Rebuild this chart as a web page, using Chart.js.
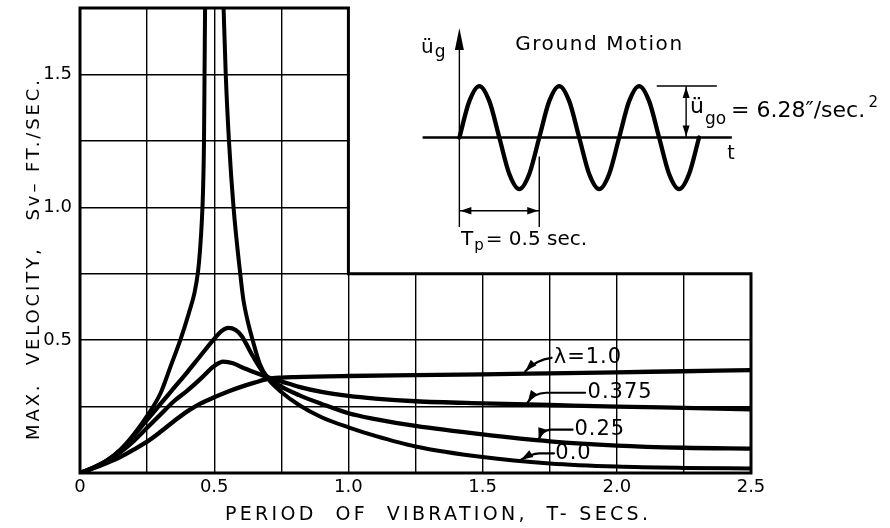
<!DOCTYPE html>
<html>
<head>
<meta charset="utf-8">
<script src="https://cdn.jsdelivr.net/npm/chart.js@4.4.1/dist/chart.umd.min.js"></script>
<style>
  html, body { margin: 0; padding: 0; background: #fff; }
  #wrap { width: 890px; height: 528px; }
</style>
</head>
<body>
<div id="wrap"><canvas id="spectrum" width="890" height="528"></canvas></div>
<script>
// Period T (sec) and max velocity Sv (ft/sec), one pair per curve.
// The undamped curve has no finite value at T = 0.5 (resonance), hence the null.
const tLam0 = [0, 0.05, 0.1, 0.15, 0.2, 0.25, 0.3, 0.337, 0.377, 0.405, 0.427, 0.44, 0.448, 0.454, 0.458, 0.462, 0.464, 0.466,
  0.5,
  0.535, 0.543, 0.555, 0.572, 0.597, 0.609, 0.624, 0.64, 0.67, 0.7, 0.75, 0.816, 0.9, 1.0, 1.1, 1.25, 1.5, 1.75, 2.0, 2.25, 2.5];
const vLam0 = [0, 0.02, 0.047, 0.088, 0.145, 0.215, 0.3, 0.4, 0.51, 0.6, 0.68, 0.76, 0.85, 0.95, 1.05, 1.25, 1.5, 1.75,
  null,
  1.75, 1.5, 1.25, 1.0, 0.75, 0.65, 0.575, 0.512, 0.41, 0.355, 0.305, 0.256, 0.21, 0.172, 0.14, 0.1, 0.06, 0.036, 0.024, 0.019, 0.017];

const tLam25 = [0, 0.05, 0.1, 0.15, 0.2, 0.25, 0.3, 0.35, 0.4, 0.44, 0.5, 0.525, 0.553, 0.58, 0.603, 0.62, 0.64, 0.678, 0.7, 0.75,
  0.816, 0.9, 1.0, 1.1, 1.25, 1.5, 1.75, 2.0, 2.25, 2.5];
const vLam25 = [0, 0.02, 0.047, 0.085, 0.14, 0.2, 0.26, 0.32, 0.38, 0.43, 0.505, 0.532, 0.546, 0.538, 0.515, 0.485, 0.447, 0.385, 0.36, 0.325,
  0.293, 0.26, 0.225, 0.203, 0.177, 0.145, 0.119, 0.103, 0.095, 0.092];

const tLam375 = [0, 0.05, 0.1, 0.15, 0.2, 0.25, 0.3, 0.35, 0.4, 0.45, 0.5, 0.534, 0.57, 0.603, 0.65, 0.7, 0.75, 0.816, 0.9, 1.0,
  1.1, 1.25, 1.5, 1.75, 2.0, 2.25, 2.5];
const vLam375 = [0, 0.02, 0.045, 0.078, 0.12, 0.17, 0.22, 0.27, 0.31, 0.355, 0.403, 0.419, 0.413, 0.398, 0.379, 0.36, 0.345, 0.324, 0.305, 0.29,
  0.28, 0.27, 0.262, 0.256, 0.25, 0.245, 0.24];

const tLam100 = [0, 0.05, 0.1, 0.15, 0.2, 0.25, 0.3, 0.35, 0.4, 0.45, 0.5, 0.55, 0.6, 0.65, 0.7, 0.75, 0.8, 1.0, 1.25, 1.5, 1.75, 2.0, 2.25, 2.5];
const vLam100 = [0, 0.018, 0.038, 0.06, 0.088, 0.118, 0.155, 0.195, 0.232, 0.262, 0.285, 0.306, 0.324, 0.34, 0.354, 0.359, 0.361, 0.365, 0.368, 0.371, 0.375, 0.379, 0.383, 0.387];

const curveNames = ['λ=1.0', '0.375', '0.25', '0.0'];

// tick labels (grid every 0.25, labels every 0.5)
const xTickLabels = ['0', '', '0.5', '', '1.0', '', '1.5', '', '2.0', '', '2.5'];
const yTickLabels = ['', '', '0.5', '', '1.0', '', '1.5', ''];

// ground motion sketch: time (sec) and ground acceleration (in/sec^2), peak 6.28
const tGround = [0, 0.0625, 0.125, 0.1875, 0.25, 0.3125, 0.375, 0.4375, 0.5, 0.5625, 0.625, 0.6875, 0.75,
  0.8125, 0.875, 0.9375, 1.0, 1.0625, 1.125, 1.1875, 1.25, 1.3125, 1.375, 1.4375, 1.5];
const accGround = [0, 4.44, 6.28, 4.44, 0, -4.44, -6.28, -4.44, 0, 4.44, 6.28, 4.44, 0,
  -4.44, -6.28, -4.44, 0, 4.44, 6.28, 4.44, 0, -4.44, -6.28, -4.44, 0];

const FONT = '"DejaVu Sans", sans-serif';

// where the frame steps down (upper right corner holds the sketch)
const frameStep = { t: 1.0, v: 0.75 };

// sketch guide lines, in sketch units (sec, in/sec^2)
const sketch = {
  tAxis: [-0.23, 1.705],
  accAxis: [-10.3, 12.0],
  accArrowTip: 13.35,
  periodLevel: -8.93,
  periodSpan: [0, 0.5],
  periodExt: [-2.3, -10.9],
  peakLevel: 6.28,
  peakLine: [1.235, 1.611],
  peakArrowT: 1.419
};

// curve labels with leader arrows, in chart units (T, Sv)
const leaders = [
  { text: curveNames[0], at: [1.765, 0.433], start: [1.757, 0.433], corner: [1.757, 0.433], ctrl: [1.70, 0.426], tip: [1.659, 0.383] },
  { text: curveNames[1], at: [1.891, 0.302], start: [1.882, 0.302], corner: [1.737, 0.302], ctrl: [1.690, 0.300], tip: [1.668, 0.266] },
  { text: curveNames[2], at: [1.842, 0.163], start: [1.835, 0.163], corner: [1.755, 0.163], ctrl: [1.720, 0.162], tip: [1.709, 0.125] },
  { text: curveNames[3], at: [1.771, 0.073], start: [1.766, 0.074], corner: [1.712, 0.074], ctrl: [1.680, 0.072], tip: [1.643, 0.050] }
];

function pairs(xs, ys) {
  return xs.map((x, i) => ({ x: x, y: ys[i] }));
}

function arrowHead(ctx, tx, ty, fx, fy, len, half) {
  const a = Math.atan2(ty - fy, tx - fx);
  const c = Math.cos(a), s = Math.sin(a);
  ctx.beginPath();
  ctx.moveTo(tx, ty);
  ctx.lineTo(tx - len * c + half * s, ty - len * s - half * c);
  ctx.lineTo(tx - len * c - half * s, ty - len * s + half * c);
  ctx.closePath();
  ctx.fill();
}

// draws text stretched (by letter spacing) to a given width, centred on cx
function fitText(ctx, str, cx, y, font, width) {
  ctx.font = font;
  ctx.letterSpacing = '0px';
  const w = ctx.measureText(str).width;
  const sp = Math.max(0, (width - w) / (str.length - 1));
  ctx.letterSpacing = sp + 'px';
  ctx.textAlign = 'left';
  ctx.fillText(str, cx - width / 2, y);
  ctx.letterSpacing = '0px';
}

function textWithSub(ctx, main, sub, x, y, font, subFont, subDy) {
  ctx.textAlign = 'left';
  ctx.font = font;
  ctx.fillText(main, x, y);
  const w = ctx.measureText(main).width;
  ctx.font = subFont;
  ctx.fillText(sub, x + w + 1, y + subDy);
}

const framePlugin = {
  id: 'frame',
  beforeDatasetsDraw(chart) {
    const { ctx, scales: { x, y } } = chart;
    const xs = x.getPixelForValue(frameStep.t);
    const ys = y.getPixelForValue(frameStep.v);
    ctx.save();
    // blank the upper right block, the grid stops at the step
    ctx.fillStyle = '#fff';
    ctx.fillRect(xs + 1, 0, chart.width - xs, ys - 1);
    ctx.strokeStyle = '#000';
    ctx.lineWidth = 3;
    ctx.lineJoin = 'miter';
    ctx.beginPath();
    ctx.moveTo(x.left, y.bottom);
    ctx.lineTo(x.left, y.top);
    ctx.lineTo(xs, y.top);
    ctx.lineTo(xs, ys);
    ctx.lineTo(x.right, ys);
    ctx.lineTo(x.right, y.bottom);
    ctx.closePath();
    ctx.stroke();
    ctx.restore();
  }
};

const notesPlugin = {
  id: 'notes',
  afterDatasetsDraw(chart) {
    const { ctx, scales: { x, y, xi, yi } } = chart;
    const px = v => x.getPixelForValue(v);
    const py = v => y.getPixelForValue(v);
    const sx = v => xi.getPixelForValue(v);
    const sy = v => yi.getPixelForValue(v);
    ctx.save();
    ctx.fillStyle = '#000';
    ctx.strokeStyle = '#000';
    ctx.lineCap = 'round';

    // curve labels and leader arrows
    leaders.forEach(l => {
      ctx.lineWidth = 2.2;
      ctx.beginPath();
      ctx.moveTo(px(l.start[0]), py(l.start[1]));
      ctx.lineTo(px(l.corner[0]), py(l.corner[1]));
      ctx.quadraticCurveTo(px(l.ctrl[0]), py(l.ctrl[1]), px(l.tip[0]), py(l.tip[1]));
      ctx.stroke();
      arrowHead(ctx, px(l.tip[0]), py(l.tip[1]), px(l.ctrl[0]), py(l.ctrl[1]), 12, 4);
      ctx.font = '21px ' + FONT;
      ctx.letterSpacing = '1px';
      ctx.textAlign = 'left';
      ctx.textBaseline = 'middle';
      ctx.fillText(l.text, px(l.at[0]), py(l.at[1]));
      ctx.letterSpacing = '0px';
    });
    ctx.textBaseline = 'alphabetic';

    // sketch: arrow on the acceleration axis
    arrowHead(ctx, sx(0), sy(sketch.accArrowTip), sx(0), sy(0), 22, 4.5);
    // period dimension arrows
    const pyl = sy(sketch.periodLevel);
    arrowHead(ctx, sx(sketch.periodSpan[0]) + 1, pyl, sx(0.25), pyl, 11, 3.8);
    arrowHead(ctx, sx(sketch.periodSpan[1]) - 1, pyl, sx(0.25), pyl, 11, 3.8);
    // amplitude dimension arrows
    const ax = sx(sketch.peakArrowT);
    arrowHead(ctx, ax, sy(sketch.peakLevel) + 1, ax, sy(3), 11, 3.5);
    arrowHead(ctx, ax, sy(0) - 1, ax, sy(3), 11, 3.5);

    // sketch texts
    textWithSub(ctx, 'ü', 'g', sx(-0.24), sy(10.3), '20px ' + FONT, '17px ' + FONT, 4);
    ctx.font = '20px ' + FONT;
    ctx.letterSpacing = '1.6px';
    ctx.fillText('Ground Motion', sx(0.349), sy(10.67));
    ctx.letterSpacing = '0px';
    textWithSub(ctx, 'ü', 'go', sx(1.444), sy(3.0), '22px ' + FONT, '17px ' + FONT, 11);
    ctx.font = '22px ' + FONT;
    ctx.fillText('= 6.28\u2033/sec.', sx(1.70), sy(2.5));
    ctx.font = '15px ' + FONT;
    ctx.fillText('2', sx(2.56), sy(3.7));
    ctx.font = '19px ' + FONT;
    ctx.fillText('t', sx(1.676), sy(-2.62));
    textWithSub(ctx, 'T', 'p', sx(0.011), sy(-13.1), '20px ' + FONT, '15px ' + FONT, 5);
    ctx.font = '20px ' + FONT;
    ctx.fillText('= 0.5 sec.', sx(0.165), sy(-13.1));

    // axis titles
    fitText(ctx, 'PERIOD  OF  VIBRATION,  T- SECS.', 436.5, 520, '19px ' + FONT, 423);
    ctx.save();
    ctx.translate(39, 260);
    ctx.rotate(-Math.PI / 2);
    fitText(ctx, 'MAX.  VELOCITY,   Sv– FT./SEC.', 0, 0, '18px ' + FONT, 360);
    ctx.restore();

    ctx.restore();
  }
};

const curveStyle = {
  borderColor: '#000',
  borderWidth: 4.3,
  pointRadius: 0,
  fill: false,
  cubicInterpolationMode: 'monotone',
  borderCapStyle: 'round',
  borderJoinStyle: 'round'
};
const guideStyle = {
  borderColor: '#000',
  borderWidth: 1.4,
  pointRadius: 0,
  fill: false,
  tension: 0,
  xAxisID: 'xi',
  yAxisID: 'yi'
};

const ctx = document.getElementById('spectrum').getContext('2d');
new Chart(ctx, {
  type: 'line',
  data: {
    datasets: [
      { label: curveNames[3], data: pairs(tLam0, vLam0), ...curveStyle, borderWidth: 4 },
      { label: curveNames[2], data: pairs(tLam25, vLam25), ...curveStyle },
      { label: curveNames[1], data: pairs(tLam375, vLam375), ...curveStyle },
      { label: curveNames[0], data: pairs(tLam100, vLam100), ...curveStyle },
      { label: 'ground motion', data: pairs(tGround, accGround), ...curveStyle, xAxisID: 'xi', yAxisID: 'yi' },
      { label: 't axis', data: sketch.tAxis.map(t => ({ x: t, y: 0 })), ...guideStyle, borderWidth: 2.6 },
      { label: 'acc axis', data: sketch.accAxis.map(a => ({ x: 0, y: a })), ...guideStyle },
      { label: 'period dim', data: sketch.periodSpan.map(t => ({ x: t, y: sketch.periodLevel })), ...guideStyle },
      { label: 'period ext', data: sketch.periodExt.map(a => ({ x: sketch.periodSpan[1], y: a })), ...guideStyle },
      { label: 'period ext left', data: [sketch.accAxis[0], -10.9].map(a => ({ x: 0, y: a })), ...guideStyle },
      { label: 'peak line', data: sketch.peakLine.map(t => ({ x: t, y: sketch.peakLevel })), ...guideStyle },
      { label: 'peak dim', data: [0, sketch.peakLevel].map(a => ({ x: sketch.peakArrowT, y: a })), ...guideStyle }
    ]
  },
  options: {
    responsive: false,
    animation: false,
    events: [],
    layout: { padding: { left: 0, top: 8, right: 139, bottom: 0 } },
    plugins: {
      legend: { display: false },
      tooltip: { enabled: false }
    },
    scales: {
      x: {
        type: 'linear',
        min: 0,
        max: 2.5,
        border: { display: false },
        grid: { color: '#000', lineWidth: 1.4, drawTicks: false },
        ticks: {
          stepSize: 0.25,
          autoSkip: false,
          maxRotation: 0,
          padding: 4,
          color: '#000',
          font: { family: FONT, size: 18 },
          callback: (value, index) => xTickLabels[index]
        },
        afterFit: scale => { scale.height = 55; scale.paddingLeft = 0; scale.paddingRight = 0; }
      },
      y: {
        type: 'linear',
        min: 0,
        max: 1.75,
        border: { display: false },
        grid: { color: '#000', lineWidth: 1.4, drawTicks: false },
        ticks: {
          stepSize: 0.25,
          autoSkip: false,
          padding: 8,
          color: '#000',
          font: { family: FONT, size: 18 },
          callback: (value, index) => yTickLabels[index]
        },
        afterFit: scale => { scale.width = 80; scale.paddingTop = 0; scale.paddingBottom = 0; }
      },
      xi: { type: 'linear', axis: 'x', display: false, min: -2.374, max: 1.825 },
      yi: { type: 'linear', axis: 'y', position: 'right', display: false, min: -40.91, max: 15.8 }
    }
  },
  plugins: [framePlugin, notesPlugin]
});
</script>
</body>
</html>
